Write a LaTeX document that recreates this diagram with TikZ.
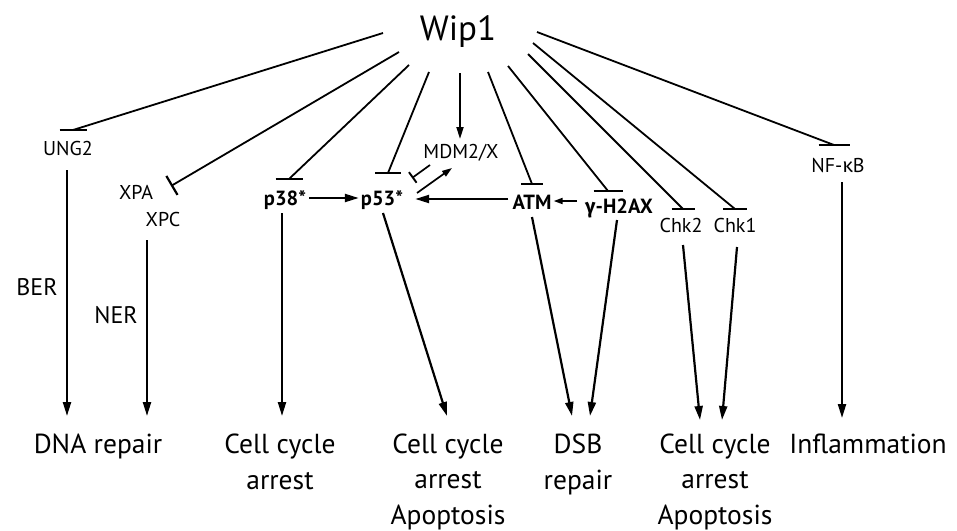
\documentclass[tikz,border=0pt]{standalone}
\usepackage{fontspec}
\setmainfont{PT Sans}
\newfontfamily\gk{Fira Sans}
\usetikzlibrary{arrows.meta}
\begin{document}
\begin{tikzpicture}[x=1pt,y=-1pt,
  lbl/.style={font=\fontsize{20}{21}\selectfont, inner sep=0, anchor=base},
  blbl/.style={font=\fontsize{20.5}{22}\selectfont\bfseries, inner sep=0, anchor=base},
  mid/.style={font=\fontsize{24}{26}\selectfont, inner sep=0, anchor=base},
  big/.style={font=\fontsize{27.5}{35.5}\selectfont, inner sep=0, anchor=base, align=center},
  inh/.style={line width=1.8pt},
  bar/.style={line width=2.2pt},
  act/.style={line width=2.2pt, -{Triangle[length=14pt,width=8pt]}},
  thinact/.style={line width=1.8pt, -{Triangle[length=12pt,width=7pt]}},
]
\useasboundingbox (0,0) rectangle (957,530);

% texts
\node[font=\fontsize{35}{38}\selectfont, inner sep=0, anchor=base] (wip) at (458,40) {Wip1};
\node[lbl] (ung2) at (68,155) {UNG2};
\node[lbl] (xpa) at (136,199) {XPA};
\node[lbl] (xpc) at (163,226) {XPC};
\node[blbl] (p38) at (285,205) {p38*};
\node[blbl] (p53) at (382,205) {p53*};
\node[lbl] (mdm) at (461,158) {MDM2/X};
\node[blbl] (atm) at (532,209) {ATM};
\node[blbl] (h2ax) at (619,213) {{\gk γ}-H2AX};
\node[lbl] (chk2) at (681,232) {Chk2};
\node[lbl] (chk1) at (735,232) {Chk1};
\node[lbl] (nfkb) at (838,172) {NF-{\gk κ}B};
\node[mid] (ber) at (37,295) {BER};
\node[mid] (ner) at (116,323) {NER};

% multi-line nodes: base anchor = baseline of last line
\node[big] (dna) at (98,453) {DNA repair};
\node[big] (cca) at (280,489) {Cell cycle\\arrest};
\node[big] (cap1) at (448,524) {Cell cycle\\arrest\\Apoptosis};
\node[big] (dsb) at (578,489) {DSB\\repair};
\node[big] (cap2) at (715,524) {Cell cycle\\arrest\\Apoptosis};
\node[big] (inf) at (868,453) {Inflammation};

% connector end points
\coordinate (s1) at (383,33);  \coordinate (e1) at (73,130);
\coordinate (s2) at (399,52);  \coordinate (e2) at (171,186);
\coordinate (s3) at (409,65);  \coordinate (e3) at (289,179);
\coordinate (s4) at (429,72);  \coordinate (e4) at (388,173);
\coordinate (s5) at (460,73);  \coordinate (e5) at (460,139);
\coordinate (s6) at (488,72);  \coordinate (e6) at (532,184);
\coordinate (s7) at (508,66);  \coordinate (e7) at (608,191);
\coordinate (s8) at (528,54);  \coordinate (e8) at (683,209);
\coordinate (s9) at (533,43);  \coordinate (e9) at (735,209);
\coordinate (s10) at (537,32); \coordinate (e10) at (834,145);

% Wip1 connectors
\draw[inh] (s1) -- (e1);  \draw[bar] ([xshift=-13.5pt]e1) -- ([xshift=13.5pt]e1);
\draw[inh, -{Bar[width=22pt,line width=2.2pt]}] (s2) -- (e2);
\draw[inh] (s3) -- (e3);  \draw[bar] ([xshift=-13.5pt]e3) -- ([xshift=13.5pt]e3);
\draw[inh] (s4) -- (e4);  \draw[bar] ([xshift=-13pt]e4) -- ([xshift=13pt]e4);
\draw[thinact] (s5) -- (e5);
\draw[inh] (s6) -- (e6);  \draw[bar] ([xshift=-11pt]e6) -- ([xshift=11pt]e6);
\draw[inh] (s7) -- (e7);  \draw[bar] ([xshift=-14.5pt]e7) -- ([xshift=14.5pt]e7);
\draw[inh] (s8) -- (e8);  \draw[bar] ([xshift=-11.5pt]e8) -- ([xshift=11.5pt]e8);
\draw[inh] (s9) -- (e9);  \draw[bar] ([xshift=-12pt]e9) -- ([xshift=12pt]e9);
\draw[inh] (s10) -- (e10); \draw[bar] ([xshift=-15.5pt]e10) -- ([xshift=15.5pt]e10);

% middle row
\draw[act] (p38.east |- 0,198) ++(3pt,0) coordinate (m1) -- ([xshift=-2pt]p53.west |- 0,198);
\draw[act] (atm.west |- 0,199) ++(-4pt,0) coordinate (m2) -- ([xshift=12pt]p53.east |- 0,199);
\draw[line width=1.8pt, -{Triangle[length=9pt,width=6pt]}] (577,201) coordinate (m3) -- ([xshift=2pt]atm.east |- 0,201);
\draw[line width=1.7pt, -{Bar[width=13pt,line width=1.9pt]}] (430,165) coordinate (m4) -- (412,178) coordinate (m5);
\draw[line width=1.7pt, -{Triangle[length=10pt,width=6.5pt]}] (417,193) coordinate (m6) -- (452,168) coordinate (m7);

% downward arrows
\draw[act] (67,170) -- (67,416);
\draw[act] (147,240) -- (147,416);
\draw[act] (282,213) -- (282,416);
\draw[act] (383,213) -- (447,416);
\draw[act] (532,217) -- (572,416);
\draw[act] (617,220) -- (590,416);
\draw[act] (683,245) -- (700,420);
\draw[act] (737,247) -- (722,420);
\draw[act] (842,182) -- (842,418);
\end{tikzpicture}
\end{document}
